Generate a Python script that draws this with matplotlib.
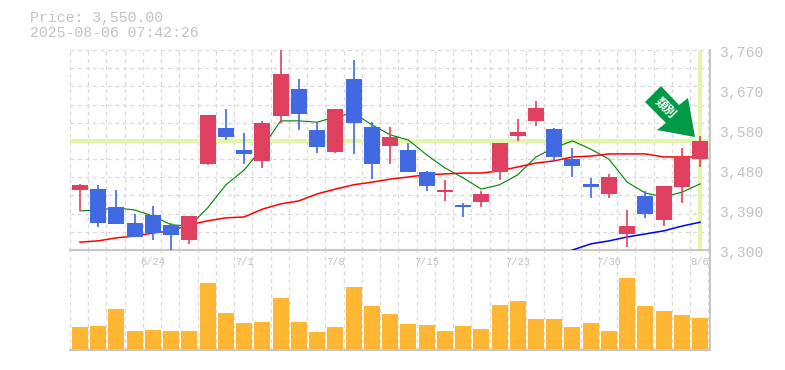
import numpy as np
import matplotlib
matplotlib.use("Agg")
import matplotlib.pyplot as plt
from matplotlib.patches import Polygon

W, H = 785, 370
MONO = "Liberation Mono"
GREY = "#c2c2c2"
GRID = "#d8d8d8"

title_lines = ["Price: 3,550.00", "2025-08-06 07:42:26"]
badge_text = "類別"
last_price = 3550

body_top = [3450,3440,3399,3362,3380,3358,3378,3610,3581,3530,3592,3705,3670,3576,3624,3693,3583,3560,
            3530,3479,3438,3404,3429,3546,3571,3627,3578,3509,3452,3468,3355,3424,3447,3514,3551]
body_bot = [3438,3362,3360,3330,3339,3335,3323,3498,3560,3521,3505,3608,3613,3537,3525,3592,3498,3539,
            3479,3447,3433,3399,3410,3479,3562,3597,3514,3493,3445,3429,3337,3383,3369,3445,3509]
highs = [3452,3450,3438,3383,3401,3362,3378,3610,3624,3569,3597,3760,3693,3594,3624,3737,3594,3583,
         3546,3482,3461,3408,3436,3546,3601,3643,3581,3535,3466,3475,3392,3436,3447,3535,3562]
lows = [3390,3353,3360,3330,3323,3300,3314,3496,3553,3498,3489,3592,3576,3523,3523,3521,3463,3498,
        3479,3436,3413,3376,3399,3461,3551,3585,3505,3468,3420,3420,3307,3374,3355,3408,3491]
is_up = [1,0,0,0,0,0,1,1,0,0,1,1,0,0,1,0,0,1,
         0,0,1,0,1,1,1,1,0,0,0,1,1,0,1,1,1]

ma_short = [3390,3392,3397,3392,3378,3358,3355,3397,3450,3484,3535,3597,3597,3594,3606,3615,3588,3565,
            3553,3519,3489,3466,3440,3450,3473,3514,3535,3551,3532,3509,3456,3431,3422,3433,3452]
ma_mid = [3318,3321,3328,3332,3339,3344,3358,3367,3374,3376,3394,3406,3413,3429,3440,3450,3456,3463,
          3468,3473,3475,3477,3477,3482,3491,3500,3505,3514,3516,3521,3521,3521,3514,3514,3514]
ma_long_start = 27
ma_long = [3300,3314,3321,3330,3337,3344,3355,3364]

volumes = [21.3,22.3,39.3,17.3,18.3,17.3,17.3,65.3,35.3,25.3,26.3,50.3,26.3,16.3,21.3,61.3,42.3,34.3,
           25,24,18,23,20,44,48,30,30,22,26,18,71,43,38,34,31]

date_idx = [4, 9, 14, 19, 24, 29, 34]
date_labels = ["6/24", "7/1", "7/8", "7/15", "7/23", "7/30", "8/6"]
price_labels = ["3,760", "3,670", "3,580", "3,480", "3,390", "3,300"]

RED, BLUE, ORANGE = "#e0405f", "#4169e1", "#ffb733"
PALE = "#e2f5a8"
BADGE = "#009944"

n = len(body_top)
idx = np.arange(n)
pmin, pmax = 3300, 3760
xlim = (-0.548, 34.54)


def fx(px):
    return px / W


def fy(py):
    return 1 - py / H


fig = plt.figure(figsize=(W / 100, H / 100), dpi=100, facecolor="white")
ax = fig.add_axes([fx(70), fy(250), fx(640), 200 / H])
av = fig.add_axes([fx(70), fy(350), fx(640), 100 / H])

dash = (0, (3, 3))
for a in (ax, av):
    a.set_xlim(*xlim)
    a.set_facecolor("none")
    a.set_xticks([])
    a.set_yticks([])
    for s in a.spines.values():
        s.set_visible(False)
    for k in range(n + 1):
        a.axvline(xlim[0] + k, color=GRID, lw=0.9, ls=dash, zorder=1)
    a.spines["right"].set_visible(True)
    a.spines["bottom"].set_visible(True)
    a.spines["right"].set_color(GREY)
    a.spines["bottom"].set_color(GREY)
    a.spines["right"].set_linewidth(1.3)
    a.spines["bottom"].set_linewidth(1.3)

ax.set_ylim(pmin, pmax)
for v in np.linspace(pmin, pmax, 12)[1:]:
    ax.axhline(v, color=GRID, lw=0.9, ls=dash, zorder=1)

ax.axhline(last_price, color=PALE, lw=3, zorder=2)
ax.plot([idx[-1], idx[-1]], [pmin + 2, pmax - 3], color=PALE, lw=3, zorder=2, solid_capstyle="butt")

ax.plot(idx, ma_short, color="#008000", lw=0.8, zorder=3)
ax.plot(idx, ma_mid, color="#ff0000", lw=1.1, zorder=3)
ax.plot(idx[ma_long_start:], ma_long, color="#0000ff", lw=1.1, zorder=3)

colors = [RED if u else BLUE for u in is_up]
ax.vlines(idx, lows, highs, colors=colors, lw=1.2, zorder=4)
ax.bar(idx, np.array(body_top) - np.array(body_bot), bottom=body_bot, width=0.877,
       color=colors, linewidth=0, zorder=5)

for lab, v in zip(price_labels, np.linspace(pmax, pmin, 6)):
    ax.annotate(lab, xy=(1, v), xycoords=("axes fraction", "data"), xytext=(9, -3),
                textcoords="offset pixels", ha="left", va="center",
                family=MONO, fontsize=10.6, color=GREY, annotation_clip=False)

av.set_ylim(-1.5, 98.5)
av.bar(idx, volumes, width=0.877, color=ORANGE, linewidth=0, zorder=3)
for i, lab in zip(date_idx, date_labels):
    av.text(i, 0.88, lab, transform=av.get_xaxis_transform(), ha="center", va="center",
            family=MONO, fontsize=7.6, color=GREY, zorder=4)

for i, line in enumerate(title_lines):
    fig.text(fx(30), fy(18 + 15 * i), line, ha="left", va="center",
             family=MONO, fontsize=10.7, color=GREY)

badge_px = [(645, 102), (661, 86), (679, 105), (688, 98), (695, 137), (657, 130), (666, 123)]
fig.add_artist(Polygon([(fx(x), fy(y)) for x, y in badge_px], closed=True,
                       transform=fig.transFigure, facecolor=BADGE, edgecolor="none", zorder=10))
fig.text(fx(666), fy(108), badge_text, rotation=-45, rotation_mode="anchor", ha="center", va="center",
         family="Noto Sans CJK JP", fontweight="bold", fontsize=8.5, color="white", zorder=11)

fig.savefig("out.png", dpi=100)
